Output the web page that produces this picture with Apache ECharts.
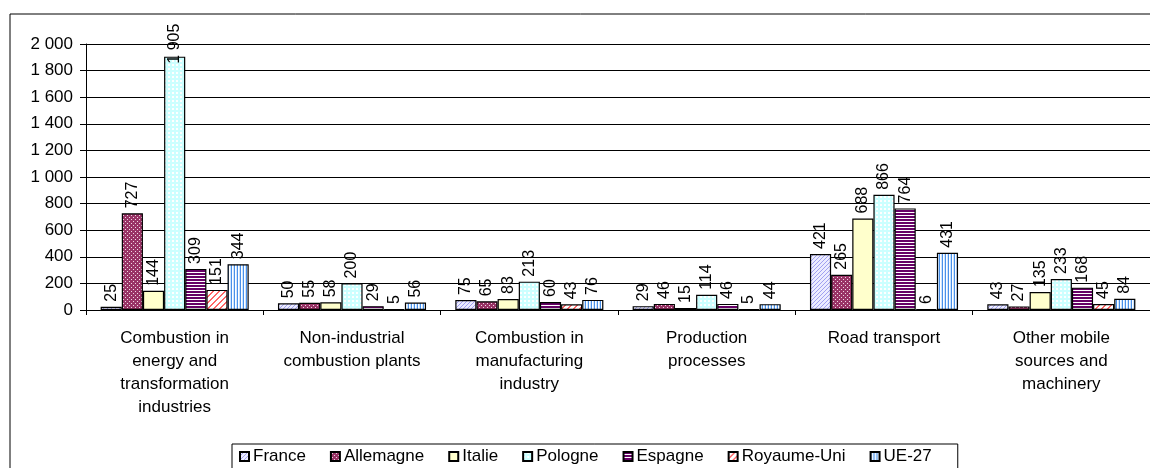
<!DOCTYPE html>
<html>
<head>
<meta charset="utf-8">
<script src="https://cdn.jsdelivr.net/npm/echarts@6/dist/echarts.min.js"></script>
<style>
html,body{margin:0;padding:0;background:#fff;}
#chart{width:1150px;height:468px;}
</style>
</head>
<body>
<div id="chart"></div>
<script>
const categories = [
  "Combustion in\nenergy and\ntransformation\nindustries",
  "Non-industrial\ncombustion plants",
  "Combustion in\nmanufacturing\nindustry",
  "Production\nprocesses",
  "Road transport",
  "Other mobile\nsources and\nmachinery"
];
const seriesNames = ["France", "Allemagne", "Italie", "Pologne", "Espagne", "Royaume-Uni", "UE-27"];
const france     = [25, 50, 75, 29, 421, 43];
const allemagne  = [727, 55, 65, 46, 265, 27];
const italie     = [144, 58, 83, 15, 688, 135];
const pologne    = [1905, 200, 213, 114, 866, 233];
const espagne    = [309, 29, 60, 46, 764, 168];
const royaumeUni = [151, 5, 43, 5, 6, 45];
const ue27       = [344, 56, 76, 44, 431, 84];
const yTicks = [0, 200, 400, 600, 800, 1000, 1200, 1400, 1600, 1800, 2000];

const seriesValues = [france, allemagne, italie, pologne, espagne, royaumeUni, ue27];

function fmt(v){ return String(v).replace(/\B(?=(\d{3})+(?!\d))/g, " "); }

function makePattern(w, h, bg, draw){
  const c = document.createElement('canvas');
  c.width = w; c.height = h;
  const ctx = c.getContext('2d');
  ctx.fillStyle = bg; ctx.fillRect(0,0,w,h);
  draw(ctx);
  return {image: c, repeat: 'repeat'};
}
function px(ctx, col, pts){ ctx.fillStyle = col; pts.forEach(p => ctx.fillRect(p[0], p[1], 1, 1)); }

const fills = [
  makePattern(4, 4, '#ECECFF', ctx => px(ctx, '#A0A0F0', [[0,3],[1,2],[2,1],[3,0]])),
  makePattern(4, 4, '#993366', ctx => px(ctx, '#F0D8E4', [[1,1],[3,3]])),
  '#FFFFCC',
  makePattern(4, 4, '#CCFFFF', ctx => px(ctx, '#FFFFFF', [[0,0],[1,0],[0,1],[1,1]])),
  makePattern(1, 3, '#660066', ctx => px(ctx, '#FFFFFF', [[0,2]])),
  makePattern(6, 6, '#FFFFFF', ctx => {
    ctx.fillStyle = '#FF6666';
    for (let i = 0; i < 6; i++) {
      ctx.fillRect(i, 5 - i, 1, 1);
      ctx.fillRect((i + 1) % 6, 5 - i, 1, 1);
    }
  }),
  makePattern(3, 1, '#FFFFFF', ctx => { px(ctx, '#4A90E8', [[0,0]]); px(ctx, '#CCE4FF', [[2,0]]); })
];

const FONT = '"Liberation Sans", Arial, sans-serif';

const chart = echarts.init(document.getElementById('chart'), null, {renderer: 'canvas'});
chart.setOption({
  animation: false,
  backgroundColor: '#fff',
  textStyle: {fontFamily: FONT, color: '#000'},
  grid: {left: 86, right: 0, top: 44, bottom: 158, containLabel: false},
  graphic: [{
    type: 'rect', silent: true, z: -1,
    shape: {x: 10, y: 14, width: 1200, height: 500},
    style: {fill: 'none', stroke: '#000', lineWidth: 1}
  }],
  legend: {
    data: seriesNames,
    left: 232, top: 444,
    orient: 'horizontal',
    itemWidth: 9, itemHeight: 9, itemGap: 24,
    padding: [4, 26, 10, 7],
    borderColor: '#000', borderWidth: 1,
    icon: 'rect',
    textStyle: {fontFamily: FONT, fontSize: 17, color: '#000', padding: [0,0,0,-1]}
  },
  xAxis: {
    type: 'category',
    data: categories,
    axisLine: {show: true, lineStyle: {color: '#000', width: 1}},
    axisTick: {show: true, length: 5, lineStyle: {color: '#000'}},
    axisLabel: {fontFamily: FONT, fontSize: 17, color: '#000', lineHeight: 23, margin: 17, interval: 0, align: 'center'},
    splitLine: {show: false}
  },
  yAxis: {
    type: 'value',
    min: 0, max: 2000, interval: 200,
    axisLine: {show: true, lineStyle: {color: '#000', width: 1}},
    axisTick: {show: true, length: 6, lineStyle: {color: '#000'}},
    axisLabel: {fontFamily: FONT, fontSize: 17, color: '#000', margin: 13,
      formatter: v => yTicks.indexOf(v) >= 0 ? fmt(v) : ''},
    splitLine: {show: true, lineStyle: {color: '#000', width: 1}}
  },
  series: seriesNames.map((name, i) => ({
    name: name,
    type: 'bar',
    data: seriesValues[i].map(v => v > 1800 ? {value: v, label: {distance: -7}} : v),
    barGap: 0,
    barCategoryGap: '16.5%',
    itemStyle: {color: fills[i], borderColor: '#000', borderWidth: 1.2},
    label: {
      show: true, position: 'top', rotate: 90,
      align: 'left', verticalAlign: 'middle', distance: 5,
      fontFamily: FONT, fontSize: 16, color: '#000',
      formatter: p => fmt(p.value)
    }
  }))
});
</script>
</body>
</html>
